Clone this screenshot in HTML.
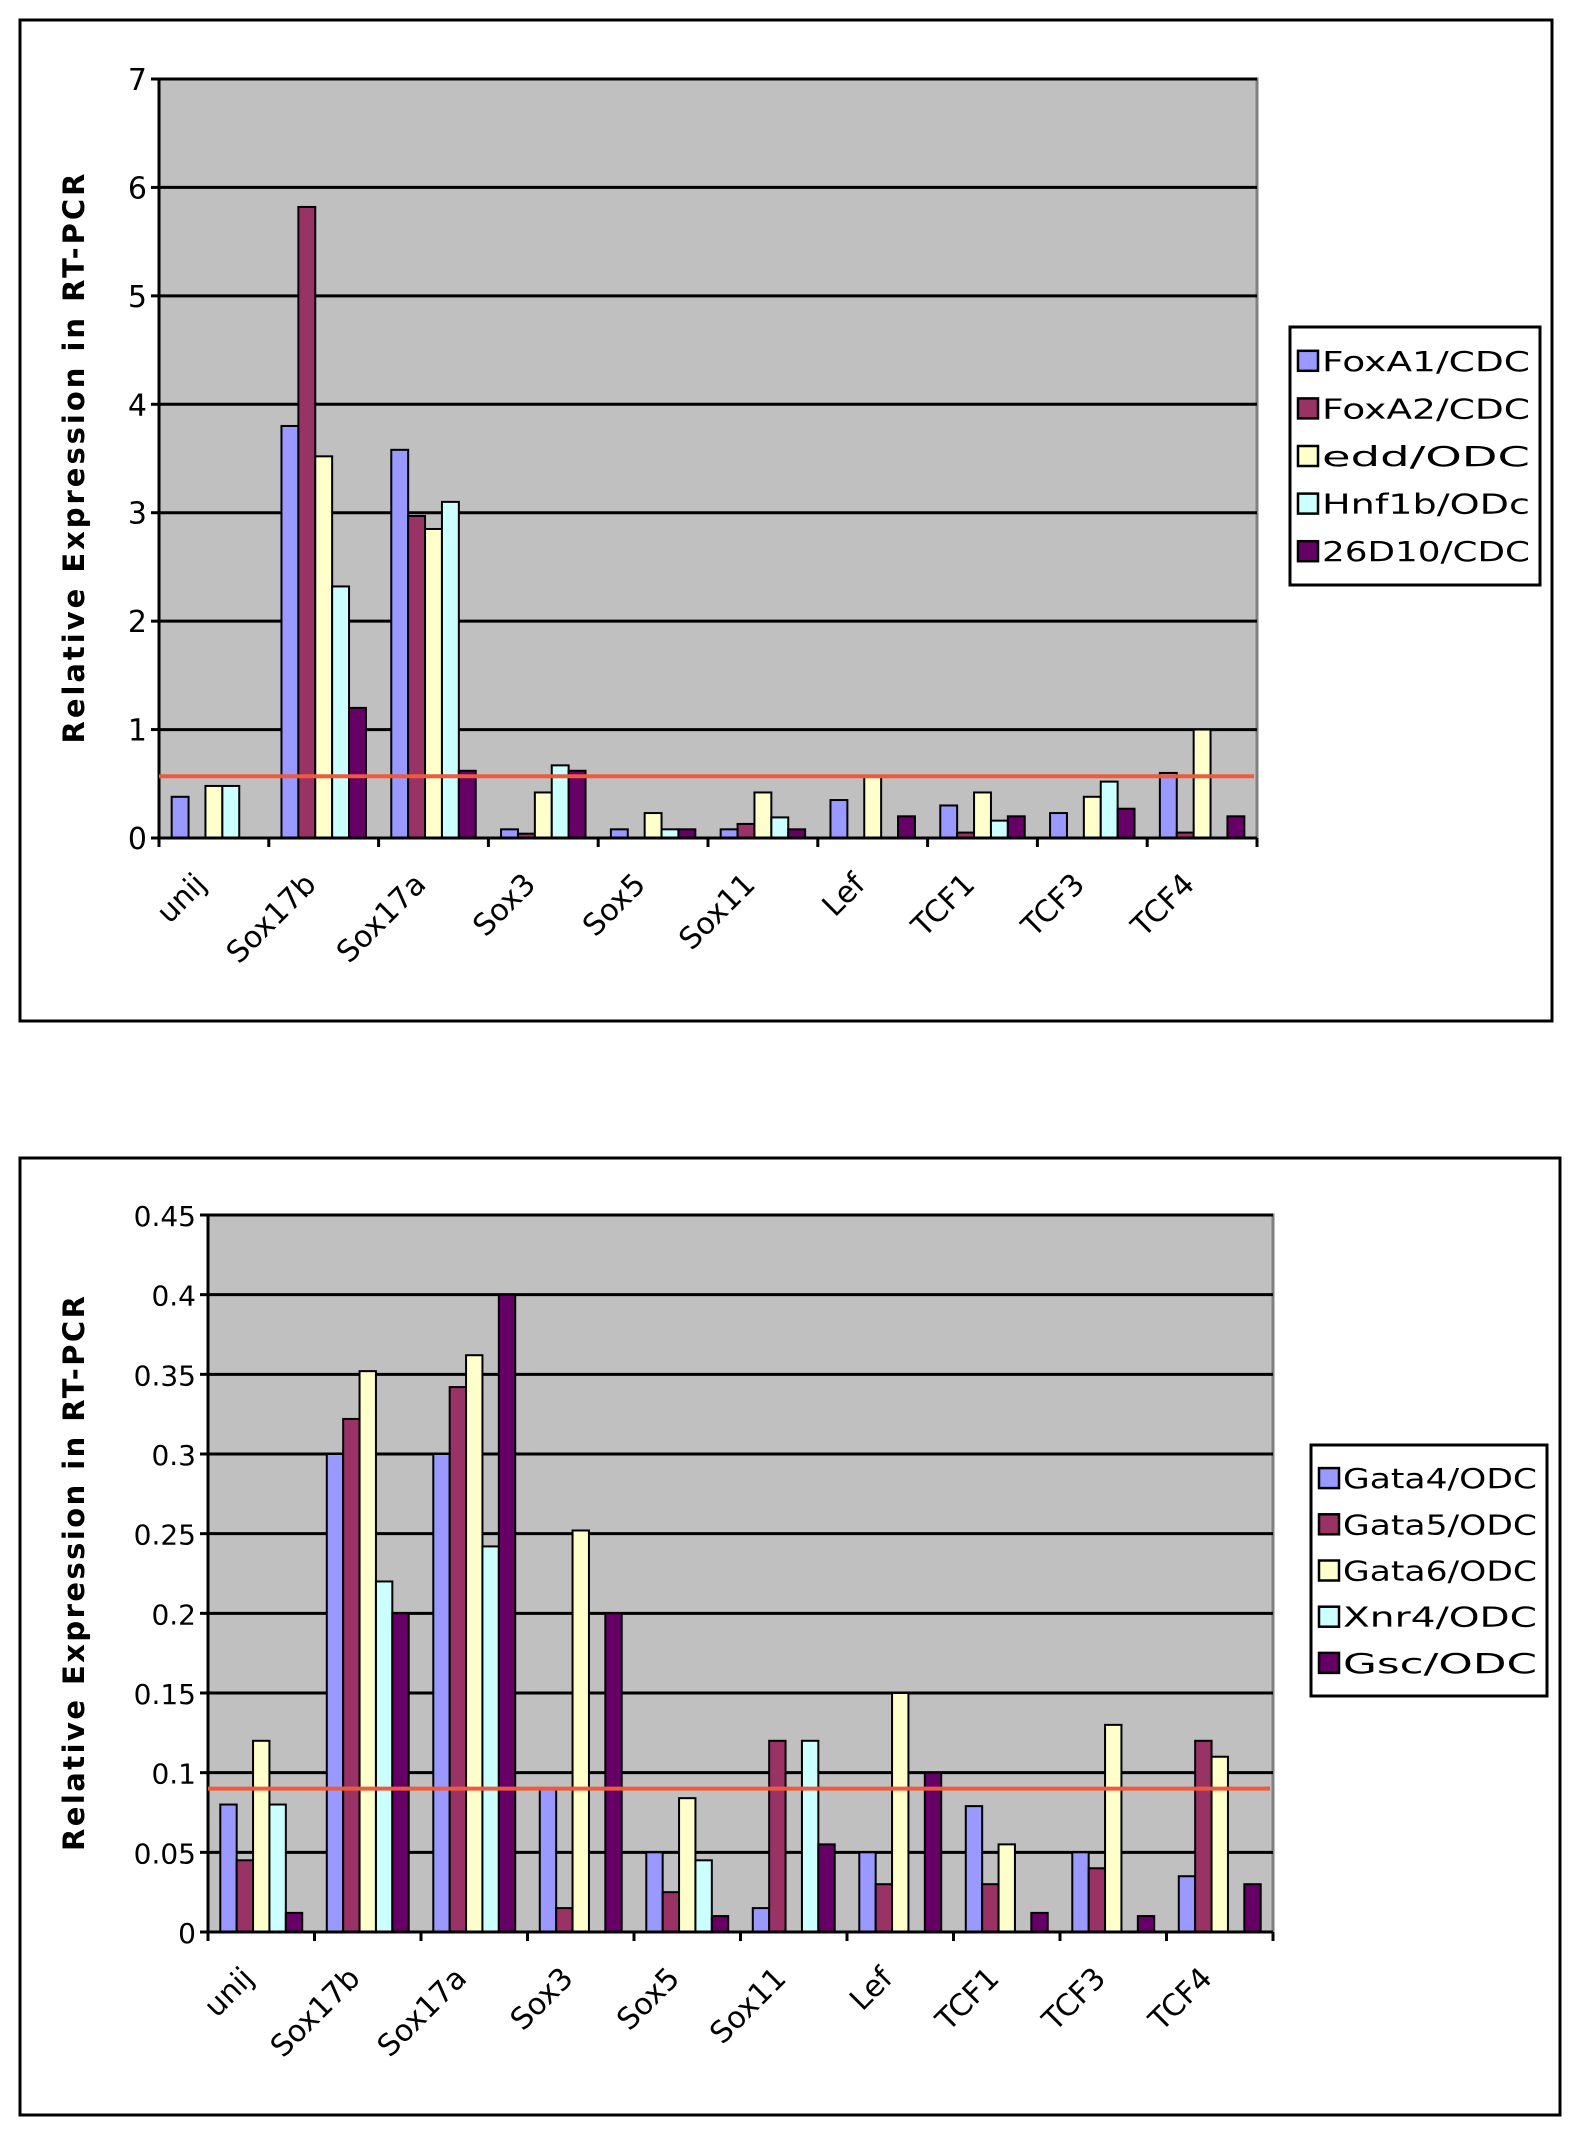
<!DOCTYPE html>
<html><head><meta charset="utf-8">
<style>
html,body{margin:0;padding:0;background:#fff;}
svg{display:block;font-family:"DejaVu Sans","Liberation Sans",sans-serif;}
</style></head>
<body>
<svg id="svg" width="1579" height="2129" viewBox="0 0 1579 2129" xmlns="http://www.w3.org/2000/svg"></svg>
<script>
const categories = ["unij","Sox17b","Sox17a","Sox3","Sox5","Sox11","Lef","TCF1","TCF3","TCF4"];
const colors = ["#9999ff","#993366","#ffffcc","#ccffff","#660066"];

const topSeriesNames = ["FoxA1/CDC","FoxA2/CDC","edd/ODC","Hnf1b/ODc","26D10/CDC"];
const topFoxA1 = [0.38,3.8,3.58,0.08,0.08,0.08,0.35,0.3,0.23,0.6];
const topFoxA2 = [0,5.82,2.97,0.04,0,0.13,0,0.05,0,0.05];
const topEdd = [0.48,3.52,2.85,0.42,0.23,0.42,0.57,0.42,0.38,1.0];
const topHnf1b = [0.48,2.32,3.1,0.67,0.08,0.19,0,0.16,0.52,0];
const top26D10 = [0,1.2,0.62,0.62,0.08,0.08,0.2,0.2,0.27,0.2];
const topTicks = ["0","1","2","3","4","5","6","7"];
const topTickValues = [0,1,2,3,4,5,6,7];
const topThreshold = 0.57;

const botSeriesNames = ["Gata4/ODC","Gata5/ODC","Gata6/ODC","Xnr4/ODC","Gsc/ODC"];
const botGata4 = [0.08,0.30,0.30,0.09,0.05,0.015,0.05,0.079,0.05,0.035];
const botGata5 = [0.045,0.322,0.342,0.015,0.025,0.12,0.03,0.03,0.04,0.12];
const botGata6 = [0.12,0.352,0.362,0.252,0.084,0,0.15,0.055,0.13,0.11];
const botXnr4 = [0.08,0.22,0.242,0,0.045,0.12,0,0,0,0];
const botGsc = [0.012,0.20,0.40,0.20,0.01,0.055,0.10,0.012,0.01,0.03];
const botTicks = ["0","0.05","0.1","0.15","0.2","0.25","0.3","0.35","0.4","0.45"];
const botTickValues = [0,0.05,0.1,0.15,0.2,0.25,0.3,0.35,0.4,0.45];
const botThreshold = 0.09;

const NS = "http://www.w3.org/2000/svg";
const svg = document.getElementById("svg");
function mk(tag, attrs, parent){
  const e = document.createElementNS(NS, tag);
  for (const k in attrs) e.setAttribute(k, attrs[k]);
  (parent||svg).appendChild(e);
  return e;
}

function drawChart(p, prefix, series, names, ticks, tickVals, threshold){
  const g = mk("g", {});
  
  
  const frame = mk("rect", {x:p.bx, y:p.by, width:p.bw, height:p.bh, fill:"#fff", stroke:"#000", "stroke-width":3}, g);
  
  
  const plot = mk("rect", {x:p.x0, y:p.y0, width:p.x1-p.x0, height:p.y1-p.y0, fill:"#c0c0c0", stroke:"#808080", "stroke-width":3}, g);
  
  
  const ymax = tickVals[tickVals.length-1];
  const yScale = v => p.y1 - (v / ymax) * (p.y1 - p.y0);
  const cw = (p.x1 - p.x0) / categories.length;
  const xScale = i => p.x0 + i * cw;
  tickVals.forEach((v, i) => {
    const y = yScale(v);
    if (i > 0) {
      const gl = mk("line", {x1:p.x0, x2:p.x1, y1:y, y2:y, stroke:"#000", "stroke-width":3}, g);
      
      
    }
    mk("line", {x1:p.x0-8, x2:p.x0, y1:y, y2:y, stroke:"#000", "stroke-width":3}, g);
    const t = mk("text", {x:p.x0-12, y:y+11, "text-anchor":"end", "font-size":p.fs, fill:"#000"}, g);
    t.textContent = ticks[i];
    
    
  });
  const bw = cw / 6.5;
  series.forEach((vals, s) => {
    vals.forEach((v, i) => {
      if (v <= 0) return;
      const x = xScale(i) + bw * 0.75 + s * bw;
      const y = yScale(v);
      const r = mk("rect", {x:x, y:y, width:bw, height:p.y1 - y, fill:colors[s], stroke:"#000", "stroke-width":2}, g);
      
      
    });
  });
  mk("line", {x1:p.x0, x2:p.x0, y1:p.y0, y2:p.y1, stroke:"#000", "stroke-width":3}, g);
  mk("line", {x1:p.x0, x2:p.x1, y1:p.y1, y2:p.y1, stroke:"#000", "stroke-width":3}, g);
  for (let i = 0; i <= categories.length; i++) {
    mk("line", {x1:xScale(i), x2:xScale(i), y1:p.y1, y2:p.y1+9, stroke:"#000", "stroke-width":3}, g);
  }
  categories.forEach((c, i) => {
    const cx = xScale(i) + cw/2 - 6, cy = p.y1 + 48;
    const t = mk("text", {x:cx, y:cy, "text-anchor":"end", "font-size":p.xfs, fill:"#000", transform:"rotate(-45 "+cx+" "+cy+")"}, g);
    t.textContent = c;
    
    
  });
  const ty = yScale(threshold);
  const th = mk("line", {x1:p.x0, x2:p.x1-3, y1:ty, y2:ty, stroke:"#f05a3c", "stroke-width":4}, g);
  
  
  const tx = p.tx, tcy = (p.y0 + p.y1) / 2;
  const yt = mk("text", {x:tx, y:tcy, "text-anchor":"middle", "font-size":29, "font-weight":"bold", fill:"#000", "textLength":p.tl, "lengthAdjust":"spacing", transform:"rotate(-90 "+tx+" "+tcy+")"}, g);
  yt.textContent = "Relative Expression in RT-PCR";
  
  
  const lg = mk("g", {}, g);
  
  
  mk("rect", {x:p.lx, y:p.ly, width:p.lw, height:p.lh, fill:"#fff", stroke:"#000", "stroke-width":3}, lg);
  const rowH = (p.lh - 20) / names.length;
  names.forEach((n, s) => {
    const ry = p.ly + 10 + rowH * s + rowH/2;
    const e = mk("g", {}, lg);
    
    
    mk("rect", {x:p.lx+8, y:ry-10, width:20, height:20, fill:colors[s], stroke:"#000", "stroke-width":2.5}, e);
    const t = mk("text", {x:p.lx+32, y:ry+10, "font-size":28, fill:"#000", "textLength":p.lw-42, "lengthAdjust":"spacingAndGlyphs"}, e);
    t.textContent = n;
  });
}

drawChart({bx:20,by:20,bw:1532,bh:1001,x0:159,y0:79,x1:1257,y1:838,fs:30,xfs:30,tx:84,tl:570,lx:1290,ly:327,lw:250,lh:258},
  "top", [topFoxA1,topFoxA2,topEdd,topHnf1b,top26D10], topSeriesNames, topTicks, topTickValues, topThreshold);
drawChart({bx:20,by:1158,bw:1540,bh:957,x0:208,y0:1215,x1:1273,y1:1932,fs:28,xfs:30,tx:84,tl:555,lx:1311,ly:1445,lw:236,lh:251},
  "bottom", [botGata4,botGata5,botGata6,botXnr4,botGsc], botSeriesNames, botTicks, botTickValues, botThreshold);
</script>
</body></html>
